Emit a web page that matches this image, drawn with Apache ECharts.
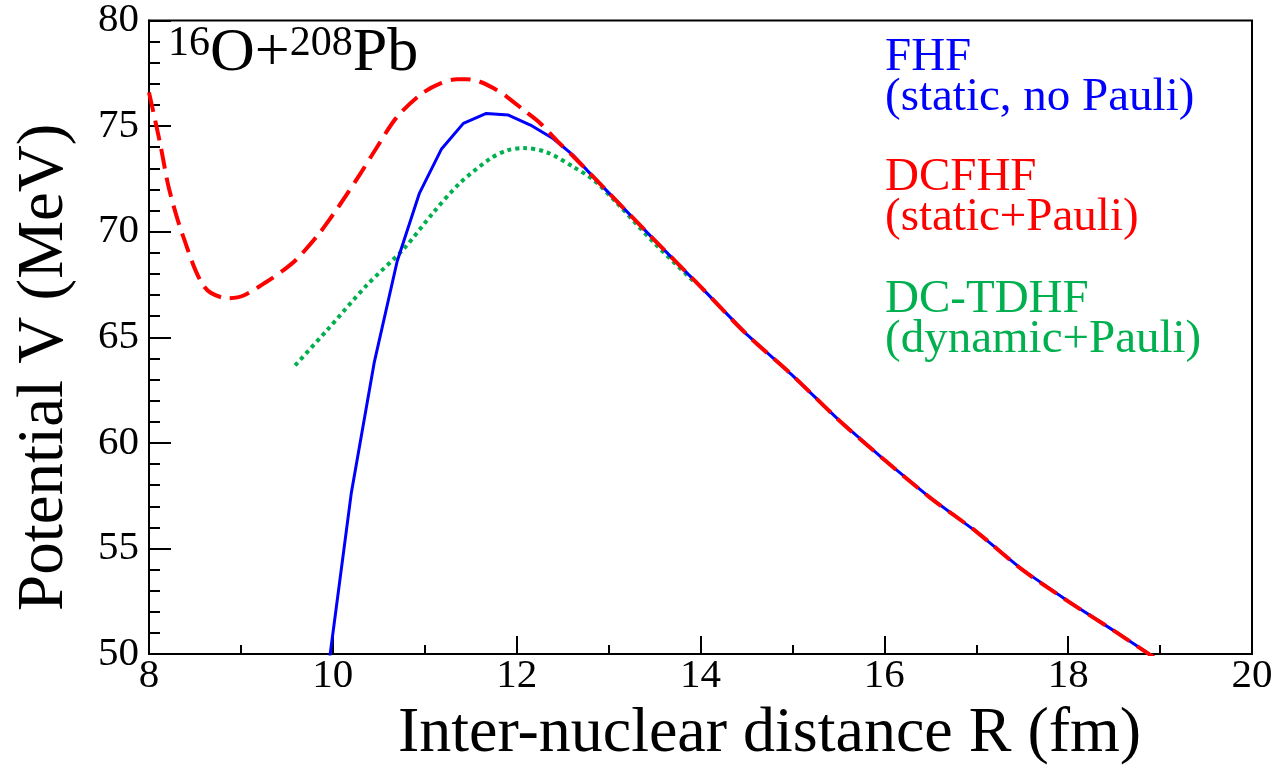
<!DOCTYPE html>
<html>
<head>
<meta charset="utf-8">
<script src="https://cdn.jsdelivr.net/npm/echarts@6/dist/echarts.min.js"></script>
<style>
  html, body { margin: 0; padding: 0; background: #fff; }
  #chart { width: 1278px; height: 771px; }
</style>
</head>
<body>
<div id="chart"></div>
<script>
// FHF (static, no Pauli)
var rFHF = [9.95, 10.2, 10.45, 10.7, 10.94, 11.18, 11.42, 11.67, 11.91, 12.15, 12.4, 12.62, 12.8, 13.0, 13.5, 14.0, 14.5, 15.0, 15.5, 16.0, 16.5, 17.0, 17.5, 18.0, 18.5, 18.88, 19.0];
var vFHF = [49.3, 57.6, 63.8, 68.6, 71.8, 73.9, 75.13, 75.6, 75.52, 75.05, 74.4, 73.6, 72.75, 71.85, 69.6, 67.4, 65.15, 63.2, 61.1, 59.2, 57.4, 55.8, 54.0, 52.5, 51.1, 50.0, 49.7];

// DCFHF (static+Pauli)
var rDCFHF = [8.0, 8.12, 8.22, 8.37, 8.6, 8.85, 9.03, 9.28, 9.46, 9.61, 9.86, 10.08, 10.3, 10.48, 10.69, 10.95, 11.17, 11.35, 11.46, 11.6, 11.75, 11.89, 12.07, 12.25, 12.44, 12.62, 12.8, 13.0, 13.5, 14.0, 14.5, 15.0, 15.5, 16.0, 16.5, 17.0, 17.5, 18.0, 18.5, 18.88, 19.0];
var vDCFHF = [76.6, 74.2, 72.0, 69.8, 67.4, 66.85, 66.98, 67.63, 68.17, 68.71, 69.96, 71.3, 72.75, 74.0, 75.39, 76.48, 77.02, 77.22, 77.22, 77.1, 76.79, 76.4, 75.78, 75.16, 74.3, 73.55, 72.75, 71.85, 69.6, 67.4, 65.15, 63.2, 61.1, 59.2, 57.4, 55.8, 54.0, 52.5, 51.1, 50.0, 49.7];

// DC-TDHF (dynamic+Pauli)
var rDCTDHF = [9.59, 9.93, 10.37, 10.77, 11.09, 11.38, 11.71, 11.9, 12.07, 12.33, 12.62, 12.84, 13.09, 13.5, 13.95];
var vDCTDHF = [63.67, 65.3, 67.47, 69.18, 70.89, 72.29, 73.45, 73.85, 73.96, 73.76, 73.06, 72.44, 71.36, 69.45, 67.55];

var xTicks = [8, 10, 12, 14, 16, 18, 20];
var yTicks = [50, 55, 60, 65, 70, 75, 80];

function pairs(xs, ys) {
  var out = [];
  for (var i = 0; i < xs.length; i++) out.push([xs[i], ys[i]]);
  return out;
}

var serif = 'Liberation Serif';

function draw() {
  var chart = echarts.init(document.getElementById('chart'));
  var option = {
    backgroundColor: '#fff',
    animation: false,
    textStyle: { fontFamily: serif },
    grid: {
      left: 149, right: 26, top: 18, bottom: 109,
      show: true, borderColor: '#000', borderWidth: 2
    },
    xAxis: {
      type: 'value', min: xTicks[0], max: xTicks[xTicks.length - 1], interval: 2,
      name: 'Inter-nuclear distance R (fm)', nameLocation: 'middle', nameGap: 42,
      nameTextStyle: { fontFamily: serif, fontSize: 64, color: '#000', padding: [0, 0, 0, 138] },
      axisLine: { lineStyle: { color: '#000', width: 2 } },
      axisTick: { inside: true, length: 18, lineStyle: { color: '#000', width: 2 } },
      minorTick: { show: true, splitNumber: 2, length: 9, lineStyle: { color: '#000', width: 2 } },
      splitLine: { show: false },
      axisLabel: { fontFamily: serif, fontSize: 41, color: '#000', margin: 2 }
    },
    yAxis: {
      type: 'value', min: yTicks[0], max: yTicks[yTicks.length - 1], interval: 5,
      name: 'Potential V (MeV)', nameLocation: 'middle', nameGap: 72,
      nameTextStyle: { fontFamily: serif, fontSize: 65, color: '#000', padding: [0, 60, 0, 0] },
      axisLine: { lineStyle: { color: '#000', width: 2 } },
      axisTick: { inside: true, length: 22, lineStyle: { color: '#000', width: 2 } },
      minorTick: { show: true, splitNumber: 5, length: 11, lineStyle: { color: '#000', width: 2 } },
      splitLine: { show: false },
      axisLabel: { fontFamily: serif, fontSize: 41, color: '#000', margin: 10 }
    },
    graphic: [
      {
        type: 'text', left: 168, top: 23,
        style: {
          text: '{sup|16}{big|O+}{sup|208}{big|Pb}',
          rich: {
            sup: { fontFamily: serif, fontSize: 42, fill: '#000', verticalAlign: 'top', lineHeight: 40 },
            big: { fontFamily: serif, fontSize: 62, fill: '#000', lineHeight: 62 }
          }
        }
      },
      {
        type: 'text', left: 885, top: 34,
        style: { text: 'FHF\n(static, no Pauli)', fontFamily: serif, fontSize: 47, lineHeight: 40, fill: '#0000ff' }
      },
      {
        type: 'text', left: 885, top: 154,
        style: { text: 'DCFHF\n(static+Pauli)', fontFamily: serif, fontSize: 47, lineHeight: 40, fill: '#ff0000' }
      },
      {
        type: 'text', left: 885, top: 276,
        style: { text: 'DC-TDHF\n(dynamic+Pauli)', fontFamily: serif, fontSize: 47, lineHeight: 40, fill: '#00b04f' }
      }
    ],
    series: [
      {
        name: 'DC-TDHF', type: 'line', showSymbol: false, symbol: 'none', smooth: 0.3,
        data: pairs(rDCTDHF, vDCTDHF),
        lineStyle: { color: '#00b04f', width: 4, type: [4, 4], cap: 'butt' }
      },
      {
        name: 'FHF', type: 'line', showSymbol: false, symbol: 'none',
        data: pairs(rFHF, vFHF),
        lineStyle: { color: '#0000ff', width: 3 }
      },
      {
        name: 'DCFHF', type: 'line', showSymbol: false, symbol: 'none', smooth: 0.3,
        data: pairs(rDCFHF, vDCFHF),
        lineStyle: { color: '#ff0000', width: 4, type: [20, 9] }
      }
    ]
  };
  chart.setOption(option);
}

if (document.fonts && document.fonts.load) {
  Promise.all([
    document.fonts.load('40px "Liberation Serif"'),
    document.fonts.load('62px "Liberation Serif"')
  ]).then(draw, draw);
} else {
  draw();
}
</script>
</body>
</html>
